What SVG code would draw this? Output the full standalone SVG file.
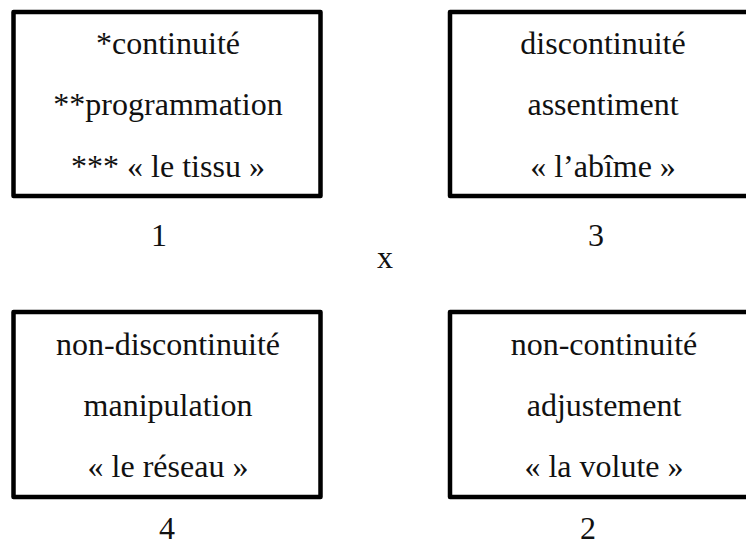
<svg xmlns="http://www.w3.org/2000/svg" width="746" height="548" viewBox="0 0 746 548">
<style>
.box{fill:none;stroke:#000;stroke-width:4.5;stroke-linejoin:round}
text{font-family:'Liberation Serif',Tinos,'Times New Roman',Times,'DejaVu Serif',serif;font-size:32px;fill:#111;text-anchor:middle}
</style>
<rect width="746" height="548" fill="#fff"/>
<g id="connectors"></g>
<g id="node1">
<rect class="box" x="13.5" y="12" width="307" height="184"/>
<text x="168" y="54">*continuité</text>
<text x="168" y="115">**programmation</text>
<text x="168" y="177">*** « le tissu »</text>
</g>
<g id="node3">
<rect class="box" x="450" y="12" width="320" height="184"/>
<text x="603" y="54">discontinuité</text>
<text x="603" y="115">assentiment</text>
<text x="603" y="177">« l’abîme »</text>
</g>
<g id="node4">
<rect class="box" x="13.5" y="312" width="307" height="185"/>
<text x="168" y="355">non-discontinuité</text>
<text x="168" y="416">manipulation</text>
<text x="168" y="477">« le réseau »</text>
</g>
<g id="node2">
<rect class="box" x="450" y="312" width="320" height="185"/>
<text x="604" y="355">non-continuité</text>
<text x="604" y="416">adjustement</text>
<text x="604" y="477">« la volute »</text>
</g>
<g id="labels">
<text x="159" y="246">1</text>
<text x="596" y="246">3</text>
<text x="385" y="268">x</text>
<text x="167" y="539">4</text>
<text x="588" y="539">2</text>
</g>
</svg>
